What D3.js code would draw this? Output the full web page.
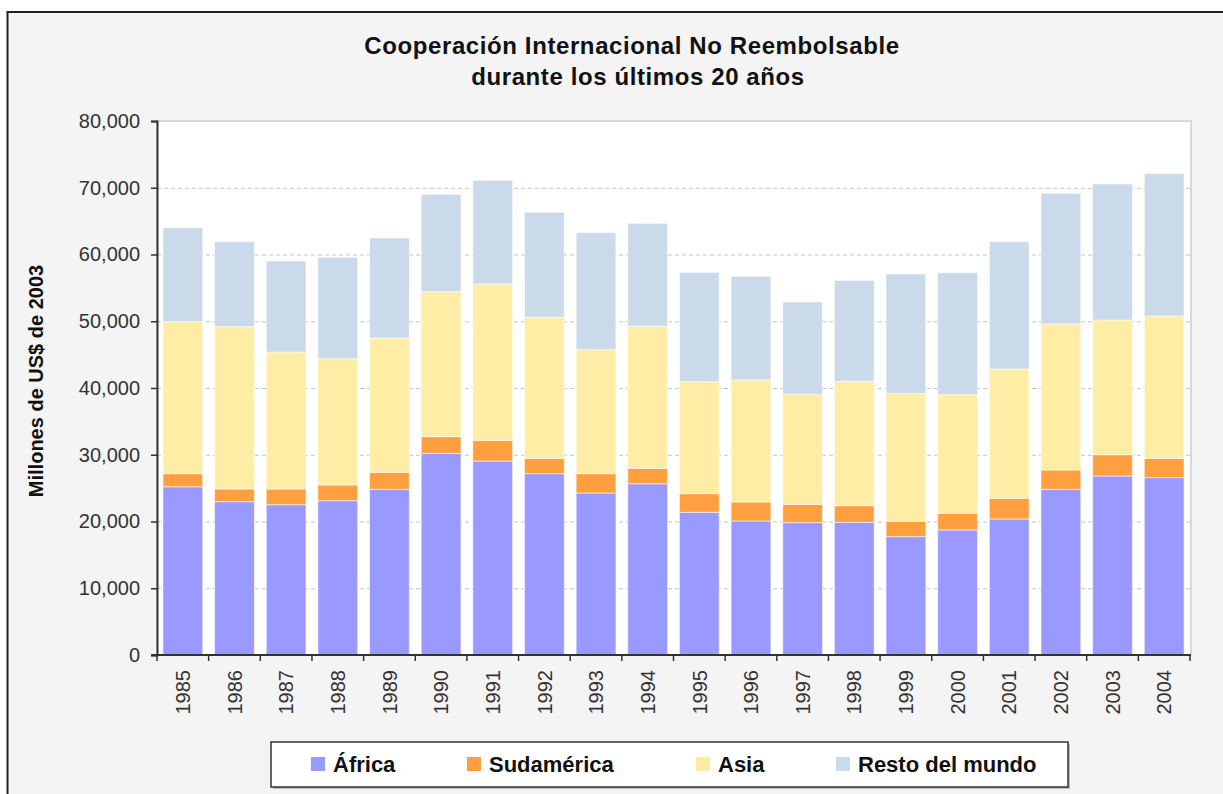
<!DOCTYPE html>
<html>
<head>
<meta charset="utf-8">
<script src="https://cdn.jsdelivr.net/npm/d3@7"></script>
<style>
  body { margin: 0; background: #fff; }
  svg { display: block; font-family: "Liberation Sans", Arial, sans-serif; }
</style>
</head>
<body>
<svg id="chart" width="1223" height="794"></svg>
<script>
// Data (millones de US$ de 2003)
const years = ["1985", "1986", "1987", "1988", "1989", "1990", "1991", "1992", "1993", "1994",
  "1995", "1996", "1997", "1998", "1999", "2000", "2001", "2002", "2003", "2004"];
const africa = [25200, 22970, 22520, 23120, 24820, 30210, 29060, 27170, 24270, 25660,
  21380, 20080, 19830, 19880, 17730, 18730, 20380, 24820, 26820, 26570];
const sudamerica = [1960, 1900, 2350, 2350, 2550, 2500, 3100, 2290, 2900, 2310,
  2790, 2840, 2740, 2490, 2300, 2500, 3090, 2900, 3190, 2890];
const asia = [22770, 24320, 20520, 18920, 20120, 21720, 23420, 21130, 18570, 21270,
  16780, 18280, 16480, 18630, 19170, 17770, 19380, 21870, 20180, 21330];
const resto = [14080, 12730, 13640, 15190, 14980, 14580, 15530, 15730, 17530, 15430,
  16380, 15530, 13830, 15130, 17880, 18280, 19070, 19580, 20370, 21320];
const seriesNames = ["África", "Sudamérica", "Asia", "Resto del mundo"];
const seriesColors = ["#9999ff", "#ff9f40", "#ffeda6", "#cadaea"];
const yTicks = [0, 10000, 20000, 30000, 40000, 50000, 60000, 70000, 80000];

const svg = d3.select("#chart");
const margin = { left: 157, right: 1191, top: 121, bottom: 655 };

// frame
svg.append("rect")
  .attr("x", 7.5).attr("y", 12)
  .attr("width", 1240).attr("height", 800)
  .attr("fill", "#f4f4f4")
  .attr("stroke", "#222").attr("stroke-width", 2);

// title
const title = svg.append("text")
  .attr("text-anchor", "middle")
  .attr("font-weight", "bold")
  .attr("font-size", 24)
  .attr("letter-spacing", 0.6)
  .attr("fill", "#111");
title.append("tspan").attr("x", 632).attr("y", 54).text("Cooperación Internacional No Reembolsable");
title.append("tspan").attr("x", 638).attr("y", 85).text("durante los últimos 20 años");

const x = d3.scaleBand()
  .domain(years)
  .range([margin.left, margin.right - 1])
  .paddingInner(0.23)
  .paddingOuter(0.115);

const y = d3.scaleLinear()
  .domain([0, 80000])
  .range([margin.bottom, margin.top]);

// plot area
svg.append("rect")
  .attr("x", margin.left).attr("y", margin.top)
  .attr("width", margin.right - margin.left).attr("height", margin.bottom - margin.top)
  .attr("fill", "#fff")
  .attr("stroke", "#d8d8d8").attr("stroke-width", 2);

// grid lines
svg.append("g")
  .selectAll("line")
  .data(yTicks.filter((d) => d > 0 && d < 80000))
  .enter()
  .append("line")
  .attr("x1", margin.left).attr("x2", margin.right)
  .attr("y1", (d) => y(d) + 0.5).attr("y2", (d) => y(d) + 0.5)
  .attr("stroke", "#c4c4c4")
  .attr("stroke-dasharray", "4,3");

// stacked bars
const rows = years.map((yr, i) => ({
  year: yr,
  "África": africa[i],
  "Sudamérica": sudamerica[i],
  "Asia": asia[i],
  "Resto del mundo": resto[i],
}));
const stack = d3.stack().keys(seriesNames)(rows);

svg.append("g")
  .selectAll("g")
  .data(stack)
  .enter()
  .append("g")
  .attr("fill", (d, i) => seriesColors[i])
  .selectAll("rect")
  .data((d) => d)
  .enter()
  .append("rect")
  .attr("x", (d) => x(d.data.year))
  .attr("width", x.bandwidth())
  .attr("y", (d) => y(d[1]))
  .attr("height", (d) => y(d[0]) - y(d[1]))
  .attr("stroke", "#ffffff")
  .attr("stroke-opacity", 0.55)
  .attr("stroke-width", 1);

// y axis
const yAxis = svg.append("g")
  .attr("transform", `translate(${margin.left},0)`)
  .call(d3.axisLeft(y).tickValues(yTicks).tickFormat(d3.format(",")).tickSize(6).tickPadding(11));
yAxis.select(".domain").attr("stroke", "#333").attr("stroke-width", 2);
yAxis.selectAll(".tick line").attr("stroke", "#333").attr("stroke-width", 1.5);
yAxis.selectAll(".tick text")
  .attr("font-family", "'Liberation Sans', Arial, sans-serif")
  .attr("font-size", 20)
  .attr("fill", "#333");

// x axis
const xAxis = svg.append("g")
  .attr("transform", `translate(0,${margin.bottom})`)
  .call(d3.axisBottom(x).tickSize(0).tickPadding(0));
xAxis.select(".domain").remove();
xAxis.selectAll(".tick text")
  .attr("font-family", "'Liberation Sans', Arial, sans-serif")
  .attr("font-size", 20)
  .attr("fill", "#333")
  .attr("text-anchor", "end")
  .attr("transform", "translate(0,15) rotate(-90)")
  .attr("y", 0)
  .attr("dy", "0.36em");

xAxis.append("line")
  .attr("x1", margin.left - 6).attr("x2", margin.right)
  .attr("stroke", "#333").attr("stroke-width", 2);
xAxis.selectAll(".bound")
  .data(d3.range(years.length + 1))
  .enter()
  .append("line")
  .attr("class", "bound")
  .attr("x1", (i) => margin.left + i * x.step())
  .attr("x2", (i) => margin.left + i * x.step())
  .attr("y1", 0).attr("y2", 6)
  .attr("stroke", "#333").attr("stroke-width", 1.5);

// y axis title
svg.append("text")
  .attr("transform", "translate(43,381) rotate(-90)")
  .attr("text-anchor", "middle")
  .attr("font-weight", "bold")
  .attr("font-size", 20)
  .attr("fill", "#111")
  .text("Millones de US$ de 2003");

// legend
svg.append("rect")
  .attr("x", 273).attr("y", 744)
  .attr("width", 797).attr("height", 45)
  .attr("fill", "#bbb");
svg.append("rect")
  .attr("x", 271).attr("y", 742)
  .attr("width", 797).attr("height", 45)
  .attr("fill", "#fff")
  .attr("stroke", "#333").attr("stroke-width", 1.5);

const legendX = [311, 467, 696, 836];
const legend = svg.append("g")
  .selectAll("g")
  .data(seriesNames)
  .enter()
  .append("g")
  .attr("transform", (d, i) => `translate(${legendX[i]},0)`);
legend.append("rect")
  .attr("y", 757).attr("width", 14).attr("height", 14)
  .attr("fill", (d, i) => seriesColors[i]);
legend.append("text")
  .attr("x", 22).attr("y", 772)
  .attr("font-weight", "bold")
  .attr("font-size", 22)
  .attr("fill", "#111")
  .text((d) => d);
</script>
</body>
</html>
